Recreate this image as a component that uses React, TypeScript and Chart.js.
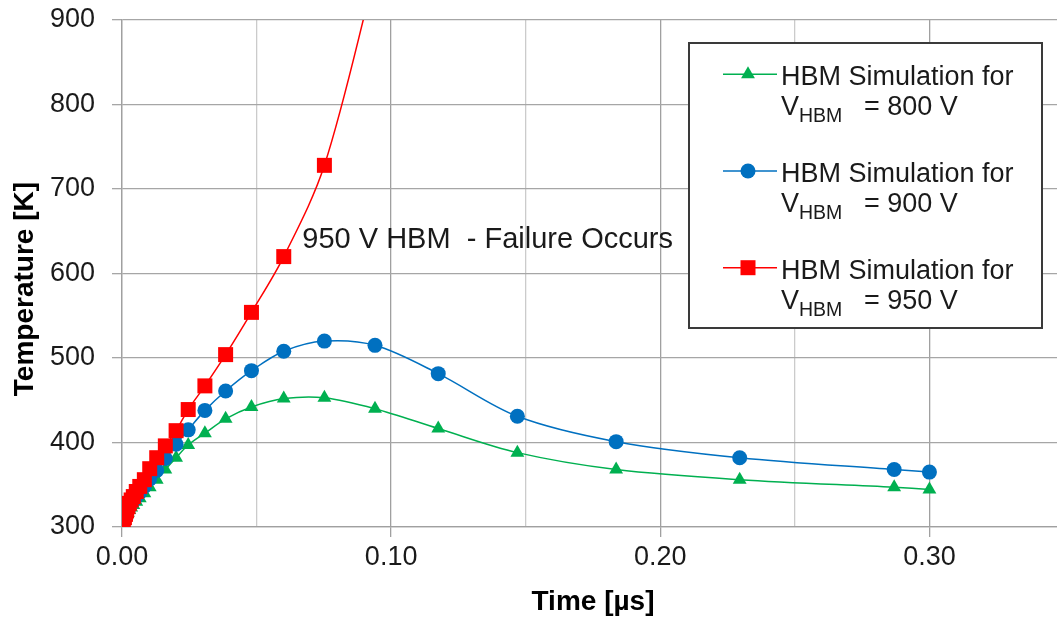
import React, { useEffect, useRef } from 'react';
import { Chart, registerables } from 'chart.js';

Chart.register(...registerables);

// Simulation time steps [µs]
const TIMES_US = [
  0, 0.0005, 0.0009, 0.0013, 0.0017, 0.0022, 0.0027, 0.0034, 0.0042, 0.0053,
  0.0066, 0.0083, 0.0103, 0.0129, 0.0161, 0.0201, 0.0246, 0.0308, 0.0385, 0.0481,
  0.0601, 0.0752, 0.094, 0.1175, 0.1469, 0.1836, 0.2295, 0.2869, 0.3,
];

// Peak lattice temperature [K] for each HBM stress level
const TEMP_800V = [
  300, 305, 308, 311, 314, 317, 320, 323, 326, 330,
  334, 340, 347, 356, 368, 382, 397, 411, 428, 442,
  452, 453, 440, 416.5, 388, 368, 356, 347, 344.5,
];
const TEMP_900V = [
  300, 306, 310, 313, 317, 320, 324, 328, 331, 336,
  341, 348, 357, 367, 381, 398, 415, 438, 461, 485,
  508, 520, 515, 481.5, 431, 401, 382, 368, 365,
];
// The 950 V run diverges (thermal failure) and stops after t = 0.094 µs
const TEMP_950V = [
  300, 307, 311, 315, 319, 324, 328, 332, 336, 342,
  348, 356, 369, 382, 396, 414, 439, 467, 504, 554,
  620, 728, 955,
];

const SERIES_NAMES = ['800 V', '900 V', '950 V'];
const SERIES_COLORS = ['#00B050', '#0070C0', '#FF0000'];

const X_MAJOR_TICKS = [0, 0.1, 0.2, 0.3];
const X_GRID_TICKS = [0, 0.05, 0.1, 0.15, 0.2, 0.25, 0.3, 0.35];
const Y_TICKS = [300, 400, 500, 600, 700, 800, 900];

const FAILURE_NOTE = '950 V HBM  - Failure Occurs';

const FONT_FAMILY = "'Liberation Sans', Arial, sans-serif";
const TEXT_COLOR = '#1a1a1a';

const toPoints = (ys: number[]) => ys.map((y, i) => ({ x: TIMES_US[i], y }));

function drawMarker(ctx: CanvasRenderingContext2D, kind: string, x: number, y: number, color: string) {
  ctx.fillStyle = color;
  ctx.beginPath();
  if (kind === 'triangle') {
    const r = 8;
    ctx.moveTo(x, y - r);
    ctx.lineTo(x + r * 0.866, y + r * 0.5);
    ctx.lineTo(x - r * 0.866, y + r * 0.5);
    ctx.closePath();
  } else if (kind === 'circle') {
    ctx.arc(x, y, 7.5, 0, Math.PI * 2);
  } else {
    ctx.rect(x - 7.5, y - 7.5, 15, 15);
  }
  ctx.fill();
}

// Boxed legend with subscripted V_HBM labels
const hbmLegend = {
  id: 'hbmLegend',
  afterDraw(chart: any) {
    const ctx: CanvasRenderingContext2D = chart.ctx;
    ctx.save();
    const bx = 689, by = 43, bw = 353, bh = 285;
    ctx.fillStyle = '#ffffff';
    ctx.fillRect(bx, by, bw, bh);
    ctx.strokeStyle = '#3a3a3a';
    ctx.lineWidth = 2;
    ctx.strokeRect(bx, by, bw, bh);

    const kinds = ['triangle', 'circle', 'rect'];
    SERIES_NAMES.forEach((name, i) => {
      const my = 74.3 + i * 96.7;
      const color = SERIES_COLORS[i];
      ctx.strokeStyle = color;
      ctx.lineWidth = 1.5;
      ctx.beginPath();
      ctx.moveTo(723, my);
      ctx.lineTo(777, my);
      ctx.stroke();
      drawMarker(ctx, kinds[i], 748, my, color);

      ctx.fillStyle = TEXT_COLOR;
      ctx.textBaseline = 'alphabetic';
      ctx.textAlign = 'left';
      ctx.font = `27px ${FONT_FAMILY}`;
      ctx.fillText('HBM Simulation for', 781, my + 11);
      ctx.fillText('V', 781, my + 41);
      const vw = ctx.measureText('V').width;
      ctx.font = `19.5px ${FONT_FAMILY}`;
      ctx.fillText('HBM', 781 + vw, my + 48);
      ctx.font = `27px ${FONT_FAMILY}`;
      ctx.fillText(`= ${name}`, 864, my + 41);
    });
    ctx.restore();
  },
};

// Text note placed beside the diverging 950 V curve
const failureNote = {
  id: 'failureNote',
  afterDatasetsDraw(chart: any) {
    const ctx: CanvasRenderingContext2D = chart.ctx;
    const xs = chart.scales.x;
    const ys = chart.scales.y;
    ctx.save();
    ctx.fillStyle = TEXT_COLOR;
    ctx.font = `29px ${FONT_FAMILY}`;
    ctx.textAlign = 'left';
    ctx.textBaseline = 'alphabetic';
    ctx.fillText(FAILURE_NOTE, xs.getPixelForValue(0.067), ys.getPixelForValue(630));
    ctx.restore();
  },
};

export default function App() {
  const canvasRef = useRef<HTMLCanvasElement | null>(null);

  useEffect(() => {
    const canvas = canvasRef.current;
    if (!canvas) return;

    const seriesData = [TEMP_800V, TEMP_900V, TEMP_950V];
    const pointStyles = ['triangle', 'circle', 'rect'];
    const pointRadii = [8, 7.5, 10.6];
    const drawOrder = [3, 2, 1];

    const tickFont = { family: FONT_FAMILY, size: 27 };
    const titleFont = { family: FONT_FAMILY, size: 28, weight: 'bold' as const };
    const isMajor = (v: number) => X_MAJOR_TICKS.some((m) => Math.abs(m - v) < 1e-9);

    const chart = new Chart(canvas, {
      type: 'line',
      data: {
        datasets: seriesData.map((ys, i) => ({
          label: `HBM Simulation for VHBM = ${SERIES_NAMES[i]}`,
          data: toPoints(ys),
          borderColor: SERIES_COLORS[i],
          backgroundColor: SERIES_COLORS[i],
          borderWidth: 1.5,
          pointStyle: pointStyles[i] as any,
          pointRadius: pointRadii[i],
          pointBorderWidth: 0,
          pointBackgroundColor: SERIES_COLORS[i],
          pointBorderColor: SERIES_COLORS[i],
          tension: 0.33,
          fill: false,
          order: drawOrder[i],
        })),
      },
      options: {
        responsive: false,
        animation: false,
        events: [],
        layout: { autoPadding: false, padding: { top: 20, right: 0, bottom: 0, left: 0 } },
        plugins: {
          legend: { display: false },
          tooltip: { enabled: false },
        },
        scales: {
          x: {
            type: 'linear',
            min: 0,
            max: 0.35,
            afterBuildTicks: (s: any) => {
              s.ticks = X_GRID_TICKS.map((v) => ({ value: v }));
            },
            afterFit: (s: any) => {
              s.height = 96;
              s.paddingLeft = 0;
              s.paddingRight = 0;
            },
            ticks: {
              font: tickFont,
              color: TEXT_COLOR,
              padding: 4,
              maxRotation: 0,
              autoSkip: false,
              callback: (v: any) => (isMajor(Number(v)) ? Number(v).toFixed(2) : ''),
            },
            grid: {
              color: (c: any) => (c.tick && isMajor(c.tick.value) ? '#a0a0a0' : '#cbcbcb'),
              tickColor: (c: any) => (c.tick && isMajor(c.tick.value) ? '#a0a0a0' : 'rgba(0,0,0,0)'),
              lineWidth: 1.3,
              tickLength: 10,
            },
            border: { color: '#a0a0a0', width: 1.3 },
            title: {
              display: true,
              text: 'Time [µs]',
              font: titleFont,
              color: '#000',
              padding: { top: 0, bottom: 4 },
            },
          },
          y: {
            type: 'linear',
            min: 300,
            max: 900,
            afterBuildTicks: (s: any) => {
              s.ticks = Y_TICKS.map((v) => ({ value: v }));
            },
            afterFit: (s: any) => {
              s.width = 122;
              s.paddingTop = 0;
              s.paddingBottom = 0;
            },
            ticks: {
              font: tickFont,
              color: TEXT_COLOR,
              padding: 17,
            },
            grid: {
              color: '#a6a6a6',
              tickColor: '#a6a6a6',
              lineWidth: 1.3,
              tickLength: 10,
            },
            border: { color: '#a0a0a0', width: 1.3 },
            title: {
              display: true,
              text: 'Temperature [K]    ',
              font: titleFont,
              color: '#000',
              padding: { top: 8, bottom: 0 },
            },
          },
        },
      },
      plugins: [failureNote, hbmLegend],
    });

    return () => chart.destroy();
  }, []);

  return (
    <div
      style={{
        position: 'fixed',
        left: 0,
        top: 0,
        width: 1057,
        height: 623,
        overflow: 'hidden',
        background: '#fff',
      }}
    >
      <canvas ref={canvasRef} width={1064} height={623} style={{ display: 'block' }} />
    </div>
  );
}
